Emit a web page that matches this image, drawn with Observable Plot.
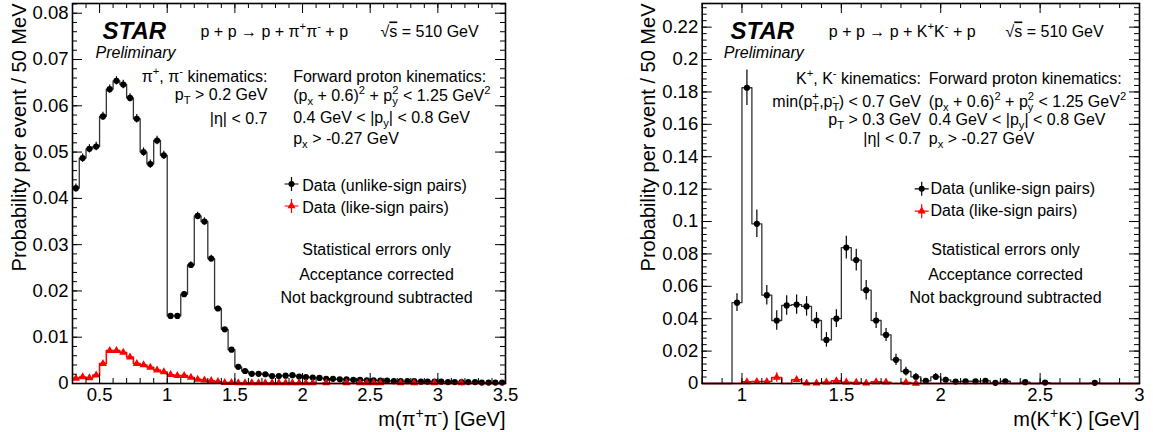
<!DOCTYPE html>
<html><head><meta charset="utf-8">
<script src="https://cdn.jsdelivr.net/npm/d3@7"></script>
<script src="https://cdn.jsdelivr.net/npm/@observablehq/plot@0.6"></script>
<style>
body{margin:0;background:#fff;}
#wrap{position:relative;width:1153px;height:432px;overflow:hidden;background:#fff;}
#wrap svg{position:absolute;top:0;}
</style></head><body><div id="wrap"></div>
<script>
// ---------------- data ----------------
const binWidth = 0.05;
// pi+pi- panel: bin lower edges 0.30 ... 3.45 GeV
const pipiMass = d3.range(64).map(i => +(0.3 + i * binWidth).toFixed(3));
const pipiUnlike = [0.0422,0.0487,0.0507,0.0512,0.0577,0.0636,0.0654,0.0646,0.0617,0.0572,
 0.0500,0.0474,0.0525,0.0493,0.0146,0.0146,0.0193,0.0256,0.0362,0.0350,
 0.0270,0.0162,0.0117,0.0073,0.0036,0.0027,0.0021,0.0021,0.0020,0.0016,
 0.0016,0.0017,0.0018,0.0015,0.0014,0.0013,0.0012,0.0010,0.0010,0.0009,
 0.0009,0.0008,0.0008,0.0007,0.0007,0.0006,0.0006,0.0005,0.0005,0.0005,
 0.0005,0.0004,0.0004,0.0004,0.0004,0.0003,0.0003,0.0003,0.0003,0.0003,
 0.0002,0.0002,0.0002,0.0002];
const pipiUnlikeErr = [0.0009,0.0009,0.0009,0.0009,0.0009,0.0009,0.0009,0.0009,0.0009,0.0009,
 0.0009,0.0009,0.0009,0.0009,0.0005,0.0005,0.0006,0.0007,0.0008,0.0008,
 0.0007,0.0005,0.0004,0.0003,0.0002,0.0002,0.0001,0.0001,0.0001,0.0001,
 0.0001,0.0001,0.0001,0.0001,0.0001,0.0001,0.0001,0.0001,0.0001,0.0001,
 0.0001,0.0001,0.0001,0.0001,0.0001,0.0001,0.0001,0.0001,0.0001,0.0001,
 0.0001,0.0001,0.0001,0.0001,0.0001,0.0001,0.0001,0.0001,0.0001,0.0001,
 0.0001,0.0001,0.0001,0.0001];
const pipiLike = [0.0011,0.0014,0.0012,0.0018,0.0043,0.0071,0.0071,0.0067,0.0057,0.0043,
 0.0040,0.0035,0.0029,0.0025,0.0019,0.0017,0.0017,0.0013,0.0009,0.0007,
 0.0006,0.0004,0.0002,0.0002,0.0001,0.0001,0.0001,0.0001,0.0001,0.0001,
 0.0001,0.0001,0.0001,0.0001,0.0001,0.0001,0,0.0001,0,0,
 0.0001,0,0.0001,0.0001,0.0001,0.0001,0,0,0.0001,0,
 0.0001,0,0,0.0001,0,0,0,0.0001,0,0,
 0,0,0,0];
const pipiLikeErr = [0.0002,0.0002,0.0002,0.0002,0.0003,0.0004,0.0004,0.0004,0.0003,0.0003,
 0.0003,0.0003,0.0002,0.0002,0.0002,0.0002,0.0002,0.0002,0.0001,0.0001,
 0.0001,0.0001,0.0001,0.0001,0.0001,0.0001,0.0001,0.0001,0.0001,0.0001,
 0.0001,0.0001,0.0001,0.0001,0.0001,0.0001,0.0001,0.0001,0.0001,0.0001,
 0.0001,0.0001,0.0001,0.0001,0.0001,0.0001,0.0001,0.0001,0.0001,0.0001,
 0.0001,0.0001,0.0001,0.0001,0.0001,0.0001,0.0001,0.0001,0.0001,0.0001,
 0.0001,0.0001,0.0001,0.0001];

// K+K- panel: bin lower edges 0.80 ... 2.95 GeV
const kkMass = d3.range(44).map(i => +(0.8 + i * binWidth).toFixed(3));
const kkUnlike = [0,0,0,0.0499,0.1826,0.0986,0.0545,0.0389,0.0482,0.0487,
 0.0476,0.0389,0.0269,0.0400,0.0839,0.0762,0.0576,0.0389,0.0300,0.0146,
 0.0074,0.0041,0.0016,0.0041,0.0023,0.0012,0.0014,0.0014,0.0016,0.0004,
 0.0014,0,0.0008,0,0.0006,0,0,0,0,0.0004,
 0,0,0,0];
const kkUnlikeErr = [0,0,0,0.0055,0.011,0.0085,0.006,0.006,0.006,0.006,
 0.006,0.005,0.0045,0.0055,0.007,0.0067,0.006,0.005,0.004,0.0035,
 0.0027,0.002,0.0013,0.002,0.0015,0.001,0.001,0.001,0.001,0.0006,
 0.001,0,0.0008,0,0.0006,0,0,0,0,0.0005,
 0,0,0,0];
const kkLike = [0,0,0,0,0.0010,0.0012,0.0012,0.0037,0,0.0023,
 0.0002,0.0002,0.0008,0.0016,0.0008,0.0006,0.0002,0.0010,0.0008,0,
 0.0006,0.0001,0,0,0,0,0,0,0,0,
 0,0,0,0,0,0,0,0,0,0,
 0,0,0,0];
const kkLikeErr = [0,0,0,0,0.001,0.0012,0.0012,0.003,0,0.0015,
 0.0002,0.0002,0.0008,0.0012,0.0008,0.0006,0.0002,0.001,0.0008,0,
 0.0006,0.0001,0,0,0,0,0,0,0,0,
 0,0,0,0,0,0,0,0,0,0,
 0,0,0,0];

// axis tick values / labels
const pipiXTicks = [0.5, 1, 1.5, 2, 2.5, 3, 3.5];
const pipiYTicks = [0, 0.01, 0.02, 0.03, 0.04, 0.05, 0.06, 0.07, 0.08];
const kkXTicks = [1, 1.5, 2, 2.5, 3];
const kkYTicks = [0, 0.02, 0.04, 0.06, 0.08, 0.1, 0.12, 0.14, 0.16, 0.18, 0.2, 0.22];

// ---------------- helpers ----------------
const FONT = "'Liberation Sans', Arial, Helvetica, sans-serif";
const H = 432, MT = 3, MB = 49;

function rows(mass, vals, errs) {
  return mass.map((m, i) => ({lo: m, c: m + binWidth / 2, v: vals[i], e: errs[i]}));
}
function steps(r) {
  const pts = r.map(d => ({x: d.lo, y: d.v}));
  const last = r[r.length - 1];
  pts.push({x: +(last.lo + binWidth).toFixed(3), y: last.v});
  return pts;
}
const crossSym = {draw(ctx) { const h = 7; ctx.moveTo(-h, 0); ctx.lineTo(h, 0); ctx.moveTo(0, -h); ctx.lineTo(0, h); }};
const fmt = d => d === 0 ? "0" : String(+d.toFixed(3));

function T(text, dx, dy, o = {}) {
  return Plot.text([text], {text: d => d, frameAnchor: "top-left", dx, dy, lineAnchor: "bottom",
    textAnchor: "start", fontSize: 16, fill: "black", ...o});
}

function panel(c) {
  const innerW = c.W - c.ml - c.mr, innerH = H - MT - MB;
  const un = rows(c.mass, c.unlike, c.unlikeErr);
  const lk = rows(c.mass, c.like, c.likeErr);
  const unPts = un.filter(d => d.v > 0), lkPts = lk.filter(d => d.v > 0);
  const [x0, x1] = c.xDomain, [y0, y1] = c.yDomain;
  const xMinor = d3.range(Math.round(x0 * 10), Math.round(x1 * 10) + 1).map(k => k / 10);
  const yMinor = d3.range(0, Math.floor(y1 / c.yMinorStep + 1e-6) + 1).map(k => +(k * c.yMinorStep).toFixed(4));
  const L = 10, l = 5;
  const a = c.annot;
  return Plot.plot({
    width: c.W, height: H, marginLeft: c.ml, marginRight: c.mr, marginTop: MT, marginBottom: MB,
    x: {domain: c.xDomain}, y: {domain: c.yDomain},
    style: {fontFamily: FONT, fontSize: "16px", background: "white", overflow: "visible", color: "black"},
    marks: [
      Plot.line(steps(un), {x: "x", y: "y", curve: "step-after", stroke: "#333", strokeWidth: 1.3}),
      Plot.ruleX(unPts, {x: "c", y1: d => d.v - d.e, y2: d => d.v + d.e, stroke: "black", strokeWidth: 1.2}),
      Plot.dot(unPts, {x: "c", y: "v", r: 3.1, fill: "black"}),
      Plot.line(steps(lk), {x: "x", y: "y", curve: "step-after", stroke: "#ff0000", strokeWidth: 1.6}),
      Plot.ruleX(lkPts, {x: "c", y1: d => d.v - d.e, y2: d => d.v + d.e, stroke: "red", strokeWidth: 1.2}),
      Plot.dot(lkPts, {x: "c", y: "v", r: 3.0, symbol: "triangle", fill: "red"}),
      // inward ticks on all four sides
      Plot.tickX(c.xTicks, {x: d => d, insetTop: innerH - L, stroke: "black"}),
      Plot.tickX(c.xTicks, {x: d => d, insetBottom: innerH - L, stroke: "black"}),
      Plot.tickX(xMinor, {x: d => d, insetTop: innerH - l, stroke: "black"}),
      Plot.tickX(xMinor, {x: d => d, insetBottom: innerH - l, stroke: "black"}),
      Plot.tickY(c.yTicks, {y: d => d, insetRight: innerW - L, stroke: "black"}),
      Plot.tickY(c.yTicks, {y: d => d, insetLeft: innerW - L, stroke: "black"}),
      Plot.tickY(yMinor, {y: d => d, insetRight: innerW - l, stroke: "black"}),
      Plot.tickY(yMinor, {y: d => d, insetLeft: innerW - l, stroke: "black"}),
      Plot.frame({stroke: "black", strokeWidth: 1.6}),
      Plot.axisX({ticks: c.xTicks, tickSize: 0, tickPadding: 4, fontSize: 18.5, tickFormat: fmt, label: null}),
      Plot.axisY({ticks: c.yTicks, tickSize: 0, tickPadding: 4, fontSize: 18.5, tickFormat: fmt, label: null}),
      // axis titles
      Plot.text([c.xTitle], {text: d => d, frameAnchor: "bottom-right", textAnchor: "end", lineAnchor: "bottom", dy: 42, fontSize: 20}),
      Plot.text(["Probability per event / 50 MeV"], {text: d => d, frameAnchor: "top-left", rotate: -90, textAnchor: "end", lineAnchor: "bottom", dx: -47, dy: 0, fontSize: 20}),
      // annotations
      T("STAR", a.star[0], 35, {fontSize: 24, fontWeight: "bold", fontStyle: "italic"}),
      T("Preliminary", a.star[1], 54, {fontStyle: "italic"}),
      T(c.reaction, a.reac[0], 33),
      T("#sqrt{s} = 510 GeV", a.reac[1], 33),
      ...c.col1.map((s, i) => T(s, a.c1x, a.c1y[i], {textAnchor: "end"})),
      ...["Forward proton kinematics:", "(p_{x} + 0.6)^{2} + p_{y}^{2} < 1.25 GeV^{2}",
          "0.4 GeV < |p_{y}| < 0.8 GeV", "p_{x} > -0.27 GeV"].map((s, i) => T(s, a.c2x, a.c2y[i])),
      // legend
      Plot.dot([0], {frameAnchor: "top-left", dx: a.lgx, dy: a.lgy[0], symbol: crossSym, r: 5, stroke: "black", fill: "none", strokeWidth: 1.2}),
      Plot.dot([0], {frameAnchor: "top-left", dx: a.lgx, dy: a.lgy[0], r: 3, fill: "black"}),
      Plot.dot([0], {frameAnchor: "top-left", dx: a.lgx, dy: a.lgy[1], symbol: crossSym, r: 5, stroke: "red", fill: "none", strokeWidth: 1.2}),
      Plot.dot([0], {frameAnchor: "top-left", dx: a.lgx, dy: a.lgy[1], r: 3.0, symbol: "triangle", fill: "red"}),
      T("Data (unlike-sign pairs)", a.lgtx, a.lgty[0]),
      T("Data (like-sign pairs)", a.lgtx, a.lgty[1]),
      ...["Statistical errors only", "Acceptance corrected", "Not background subtracted"].map((s, i) =>
        T(s, a.nx, [251, 276, 299.7][i], {textAnchor: "middle"}))
    ]
  });
}

// convert _{..} ^{..} #sqrt{..} markup to tspans
function richify(root) {
  root.querySelectorAll("text").forEach(t => {
    const s = t.textContent;
    if (!/[_^]\{|#sqrt/.test(s)) return;
    const fs = parseFloat(getComputedStyle(t).fontSize) || 16;
    while (t.firstChild) t.removeChild(t.firstChild);
    const NS = "http://www.w3.org/2000/svg";
    let shift = 0, pendingDx = 0;
    const add = (txt, target, small, dx) => {
      const sp = document.createElementNS(NS, "tspan");
      sp.textContent = txt;
      const dy = target - shift;
      if (dy) sp.setAttribute("dy", dy.toFixed(2));
      shift = target;
      if (small) sp.setAttribute("font-size", (fs * 0.7).toFixed(2));
      const ddx = (dx || 0) + pendingDx;
      pendingDx = 0;
      if (ddx) sp.setAttribute("dx", ddx.toFixed(2));
      t.appendChild(sp);
      return sp;
    };
    const re = /_\{([^}]*)\}\^\{([^}]*)\}|_\{([^}]*)\}|\^\{([^}]*)\}|#sqrt\{([^}]*)\}|[^_^#]+|[_^#]/g;
    let m;
    while ((m = re.exec(s))) {
      if (m[1] !== undefined) {
        const sub = add(m[1], fs * 0.27, true);
        const w = sub.getComputedTextLength();
        const sup = add(m[2], -fs * 0.4, true, -w);
        const w2 = sup.getComputedTextLength();
        if (w > w2) pendingDx = w - w2;
      } else if (m[3] !== undefined) add(m[3], fs * 0.27, true);
      else if (m[4] !== undefined) add(m[4], -fs * 0.4, true);
      else if (m[5] !== undefined) {
        add("√", 0, false);
        const sp = add(m[5], 0, false);
        sp.setAttribute("text-decoration", "overline");
      }
      else add(m[0], 0, false);
    }
  });
}

const wrap = document.getElementById("wrap");
const left = panel({
  W: 576, ml: 72, mr: 71, xDomain: [0.3, 3.5], yDomain: [0, 0.0821], yMinorStep: 0.002,
  mass: pipiMass, unlike: pipiUnlike, unlikeErr: pipiUnlikeErr, like: pipiLike, likeErr: pipiLikeErr,
  xTicks: pipiXTicks, yTicks: pipiYTicks, xTitle: "m(π^{+}π^{-}) [GeV]",
  reaction: "p + p → p + π^{+}π^{-} + p",
  col1: ["π^{+}, π^{-} kinematics:", "p_{T} > 0.2 GeV", "|η| < 0.7"],
  annot: {star: [30, 23], reac: [128, 308], c1x: 195, c1y: [78, 96.5, 120], c2x: 220.7, c2y: [78, 97, 119, 140],
          lgx: 219, lgy: [180.5, 202.5], lgtx: 229.7, lgty: [187.8, 209.7], nx: 304}
});
left.style.left = "0px";
const right = panel({
  W: 577, ml: 125.7, mr: 14, xDomain: [0.8, 3.0], yDomain: [0, 0.2346], yMinorStep: 0.004,
  mass: kkMass, unlike: kkUnlike, unlikeErr: kkUnlikeErr, like: kkLike, likeErr: kkLikeErr,
  xTicks: kkXTicks, yTicks: kkYTicks, xTitle: "m(K^{+}K^{-}) [GeV]",
  reaction: "p + p → p + K^{+}K^{-} + p",
  col1: ["K^{+}, K^{-} kinematics:", "min(p_{T}^{+},p_{T}^{-}) < 0.7 GeV", "p_{T} > 0.3 GeV", "|η| < 0.7"],
  annot: {star: [28.3, 21.6], reac: [126.6, 303.3], c1x: 218.8, c1y: [80, 103, 121, 140], c2x: 226.6, c2y: [80, 103, 121, 140],
          lgx: 219.5, lgy: [185.3, 207.7], lgtx: 228.3, lgty: [190.3, 212], nx: 303.3}
});
right.style.left = "576px";
wrap.appendChild(left);
wrap.appendChild(right);
richify(left);
richify(right);
</script>
</body></html>
